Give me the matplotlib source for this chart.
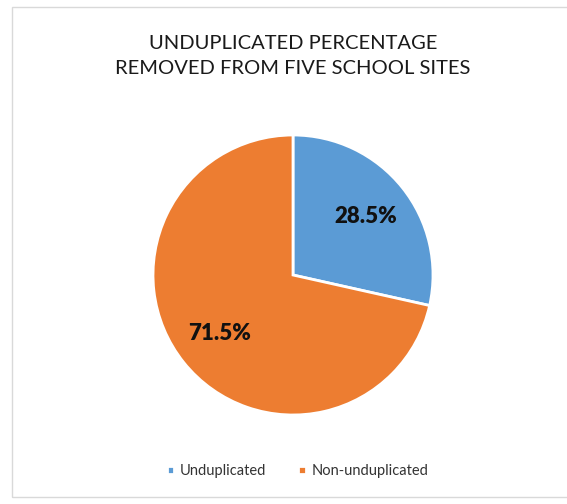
import matplotlib.pyplot as plt
from matplotlib.patches import Rectangle

labels = ['Unduplicated', 'Non-unduplicated']
values = [28.5, 71.5]
colors = ['#5B9BD5', '#ED7D31']

plt.rcParams['font.family'] = ['Lato', 'DejaVu Sans']

fig = plt.figure(figsize=(5.67, 5.04), dpi=100)

# chart frame
fig.patches.append(Rectangle((12 / 567, 7 / 504), 560 / 567, 490 / 504,
                             transform=fig.transFigure, fill=False,
                             edgecolor='#d9d9d9', linewidth=1))

fig.text(0.517, 1 - 56 / 504, 'UNDUPLICATED PERCENTAGE\nREMOVED FROM FIVE SCHOOL SITES',
         ha='center', va='center', fontsize=14.5, color='#1a1a1a', linespacing=1.6)

cx, cy, r = 293 / 567, 1 - 275 / 504, 140
ax = fig.add_axes([cx - r / 567, cy - r / 504, 2 * r / 567, 2 * r / 504])
wedges, texts, autotexts = ax.pie(values, colors=colors, startangle=90, counterclock=False,
                                  autopct='%1.1f%%', pctdistance=0.67,
                                  wedgeprops=dict(edgecolor='white', linewidth=2))
for t in autotexts:
    t.set_fontsize(16)
    t.set_fontweight('heavy')
    t.set_color('#111111')
ax.set_aspect('equal')
ax.set_xlim(-1, 1)
ax.set_ylim(-1, 1)

fig.legend(wedges, labels, loc='center', bbox_to_anchor=(0.525, 1 - 471 / 504), ncol=2,
           frameon=False, fontsize=10.5, handlelength=0.5, handleheight=0.5,
           handletextpad=0.4, columnspacing=2.2, labelcolor='#333333')

fig.savefig('out.png', dpi=100)
